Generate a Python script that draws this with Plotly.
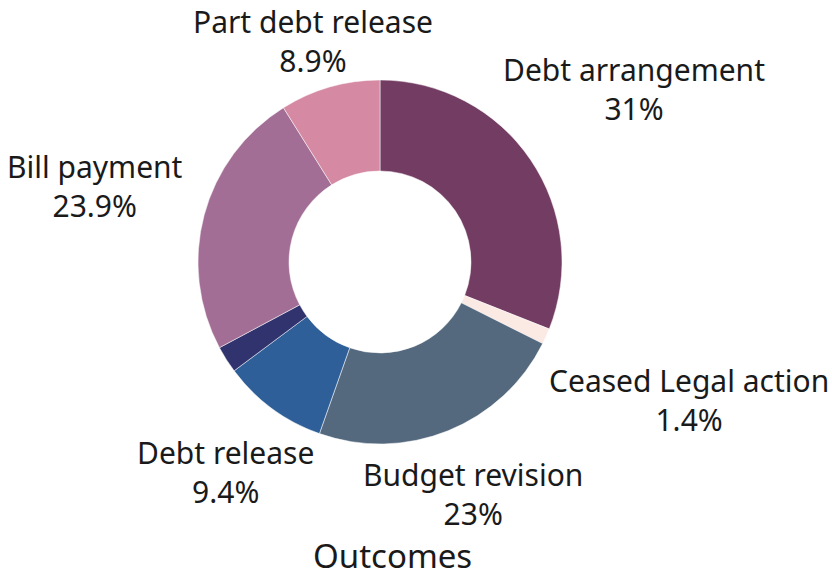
import math
import plotly.graph_objects as go

# Outcome shares (percent), in drawing order clockwise from 12 o'clock
labels = ["Debt arrangement", "Ceased Legal action", "Budget revision",
          "Debt release", "Other", "Bill payment", "Part debt release"]
values = [31.0, 1.4, 23.0, 9.4, 2.4, 23.9, 8.9]
shown = [True, True, True, True, False, True, True]
colors = ["#733C62", "#FBEAE3", "#55697E", "#2E5F98", "#30336E", "#A36E96", "#D589A2"]

W, H = 832, 577
FONT = "Noto Sans"
LABEL_SIZE = 30
TITLE_SIZE = 33
TEXT_COLOR = "#1a1a1a"

# Donut geometry in pixels
CX, CY, R = 380, 262, 182
LABEL_GAP = 25
CHAR_W = 15.2        # rough average glyph width at LABEL_SIZE
MIN_BLOCK_CY = 41    # keeps two-line label blocks inside the top edge

fig = go.Figure(go.Pie(
    labels=labels,
    values=values,
    sort=False,
    direction="clockwise",
    rotation=0,
    hole=0.5,
    marker=dict(colors=colors, line=dict(color="white", width=0.5)),
    textinfo="none",
    hoverinfo="label+percent",
    showlegend=False,
    domain=dict(x=[(CX - R) / W, (CX + R) / W], y=[(H - CY - R) / H, (H - CY + R) / H]),
))

# Radial labels: each block sits outside its slice along the slice's mid-angle
total = sum(values)
cum = 0.0
for lab, v, s in zip(labels, values, shown):
    mid = (cum + v / 2) / total * 2 * math.pi
    cum += v
    if not s:
        continue
    ux, uy = math.sin(mid), -math.cos(mid)
    half_w = CHAR_W * len(lab) / 2
    dist = R + LABEL_GAP + abs(ux) * half_w
    px, py = CX + dist * ux, CY + dist * uy
    py = max(py, MIN_BLOCK_CY)
    pct = f"{v / total * 100:.3g}%"
    fig.add_annotation(
        text=f"{lab}<br>{pct}", x=px / W, y=1 - py / H,
        xref="paper", yref="paper", showarrow=False,
        xanchor="center", yanchor="middle", align="center",
        font=dict(family=FONT, size=LABEL_SIZE, color=TEXT_COLOR),
    )

fig.add_annotation(
    text="Outcomes", x=392 / W, y=(H - 555) / H, xref="paper", yref="paper",
    showarrow=False, font=dict(family=FONT, size=TITLE_SIZE, color=TEXT_COLOR),
    xanchor="center", yanchor="middle",
)

fig.update_layout(
    width=W, height=H,
    margin=dict(l=0, r=0, t=0, b=0),
    paper_bgcolor="white",
    plot_bgcolor="white",
)

fig.write_html("out.html")
